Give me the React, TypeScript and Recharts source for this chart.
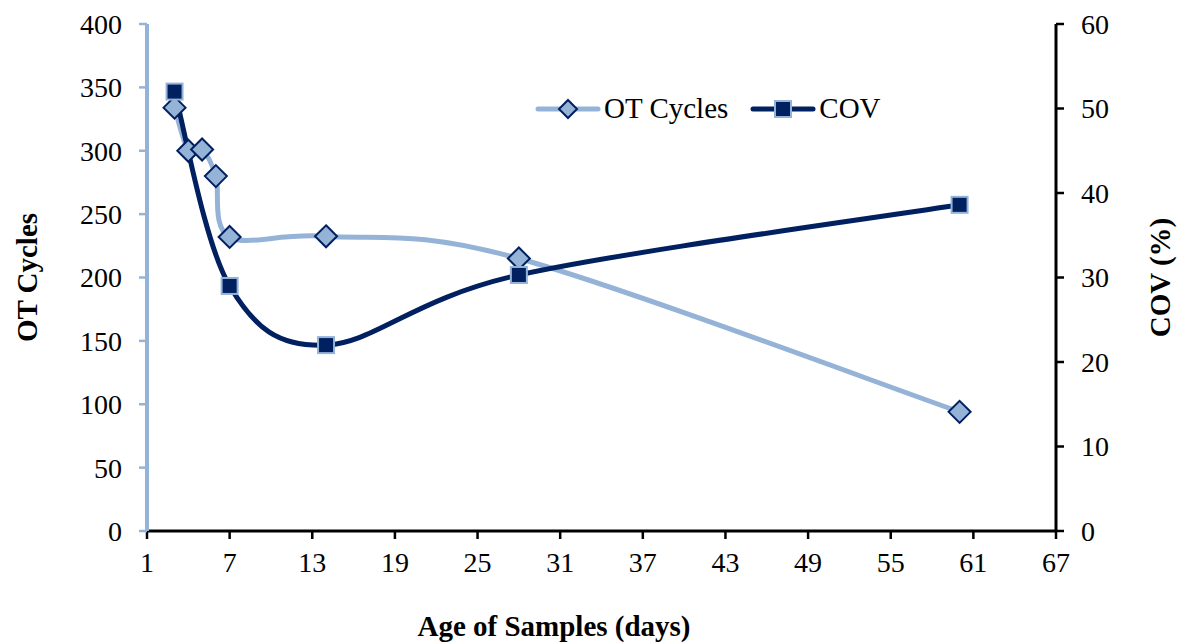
import React from 'react'
import { LineChart, Line, XAxis, YAxis, Legend } from 'recharts'

// OT Cycles series (left axis)
const otAges = [3, 4, 5, 6, 7, 14, 28, 60]
const otCycles = [334, 300, 301, 280, 232, 232.5, 215, 94]

// COV series (right axis)
const covAges = [3, 7, 14, 28, 60]
const covValues = [52, 29, 22, 30.3, 38.6]

const xTicks = [1, 7, 13, 19, 25, 31, 37, 43, 49, 55, 61, 67]
const leftTicks = [0, 50, 100, 150, 200, 250, 300, 350, 400]
const rightTicks = [0, 10, 20, 30, 40, 50, 60]

const otData = otAges.map((age, i) => ({ age, ot: otCycles[i] }))
const covData = covAges.map((age, i) => ({ age, cov: covValues[i] }))

const LIGHT = '#95B3D7'
const DARK = '#002060'
const FONT = "'Liberation Serif', 'Times New Roman', serif"
const TICK = { fontSize: 28, fill: '#000', fontFamily: FONT }
const TITLE = { fontSize: 29, fontWeight: 700, fill: '#000', fontFamily: FONT }

// Excel-style smoothed line (uniform Catmull-Rom as cubic bezier)
/* eslint-disable @typescript-eslint/no-explicit-any */
function excelSmooth(context: any) {
  let pts: number[][] = []
  return {
    areaStart() {},
    areaEnd() {},
    lineStart() { pts = [] },
    point(x: number, y: number) { pts.push([+x, +y]) },
    lineEnd() {
      const n = pts.length
      if (!n) return
      context.moveTo(pts[0][0], pts[0][1])
      for (let i = 0; i < n - 1; i++) {
        const p0 = pts[Math.max(i - 1, 0)]
        const p1 = pts[i]
        const p2 = pts[i + 1]
        const p3 = pts[Math.min(i + 2, n - 1)]
        context.bezierCurveTo(
          p1[0] + (p2[0] - p0[0]) / 6, p1[1] + (p2[1] - p0[1]) / 6,
          p2[0] - (p3[0] - p1[0]) / 6, p2[1] - (p3[1] - p1[1]) / 6,
          p2[0], p2[1],
        )
      }
    },
  }
}

const diamond = (cx: number, cy: number, r = 11) =>
  `M${cx},${cy - r} L${cx + r},${cy} L${cx},${cy + r} L${cx - r},${cy} Z`

const OtDot = (props: any) => {
  const { cx, cy, index } = props
  if (cx == null || cy == null) return <g key={`o${index}`} />
  return <path key={`o${index}`} d={diamond(cx, cy)} fill={LIGHT} stroke={DARK} strokeWidth={2} />
}

const CovDot = (props: any) => {
  const { cx, cy, index } = props
  if (cx == null || cy == null) return <g key={`c${index}`} />
  return <rect key={`c${index}`} x={cx - 8} y={cy - 8} width={16} height={16} fill={DARK} stroke={LIGHT} strokeWidth={2} />
}

const leftTitle = (props: any) => {
  const { y, height } = props.viewBox
  const cx = 27
  const cy = y + height / 2
  return (
    <text x={cx} y={cy} transform={`rotate(-90 ${cx} ${cy})`} textAnchor="middle" dominantBaseline="central" style={TITLE}>
      OT Cycles
    </text>
  )
}

const rightTitle = (props: any) => {
  const { y, height } = props.viewBox
  const cx = 1160
  const cy = y + height / 2
  return (
    <text x={cx} y={cy} transform={`rotate(-90 ${cx} ${cy})`} textAnchor="middle" dominantBaseline="central" style={TITLE}>
      COV (%)
    </text>
  )
}

const bottomTitle = () => (
  <text x={554} y={626} textAnchor="middle" dominantBaseline="central" style={TITLE}>
    Age of Samples (days)
  </text>
)

const renderLegend = () => (
  <div style={{ display: 'flex', alignItems: 'center', fontFamily: FONT, fontSize: 29, color: '#000', whiteSpace: 'nowrap' }}>
    <svg width={66} height={30}>
      <line x1={3} y1={15} x2={63} y2={15} stroke={LIGHT} strokeWidth={5} strokeLinecap="round" />
      <path d={diamond(33, 15, 9)} fill={LIGHT} stroke={DARK} strokeWidth={2} />
    </svg>
    <span style={{ marginLeft: 3, marginRight: 22 }}>OT Cycles</span>
    <svg width={66} height={30}>
      <line x1={3} y1={15} x2={63} y2={15} stroke={DARK} strokeWidth={5} strokeLinecap="round" />
      <rect x={25} y={7} width={16} height={16} fill={DARK} stroke={LIGHT} strokeWidth={2} />
    </svg>
    <span style={{ marginLeft: 3 }}>COV</span>
  </div>
)
/* eslint-enable @typescript-eslint/no-explicit-any */

export default function App() {
  return (
    <div style={{ position: 'absolute', left: 0, top: 0, width: 1178, height: 644, background: '#fff' }}>
      <LineChart width={1178} height={644} margin={{ top: 24, right: 0, bottom: 0, left: 0 }}>
        <XAxis
          dataKey="age"
          type="number"
          domain={[1, 67]}
          ticks={xTicks}
          allowDuplicatedCategory={false}
          height={113}
          tick={TICK}
          tickSize={8}
          tickMargin={13}
          axisLine={{ stroke: '#000', strokeWidth: 3 }}
          tickLine={{ stroke: '#000', strokeWidth: 2.5 }}
          interval={0}
          label={{ content: bottomTitle }}
        />
        <YAxis
          yAxisId="left"
          orientation="left"
          domain={[0, 400]}
          ticks={leftTicks}
          width={147}
          tick={TICK}
          tickSize={8}
          tickMargin={17}
          axisLine={{ stroke: LIGHT, strokeWidth: 4 }}
          tickLine={{ stroke: LIGHT, strokeWidth: 2.5 }}
          interval={0}
          label={{ content: leftTitle }}
        />
        <YAxis
          yAxisId="right"
          orientation="right"
          domain={[0, 60]}
          ticks={rightTicks}
          width={122}
          tick={TICK}
          tickSize={8}
          tickMargin={17}
          axisLine={{ stroke: '#000', strokeWidth: 3 }}
          tickLine={{ stroke: '#000', strokeWidth: 2.5 }}
          interval={0}
          label={{ content: rightTitle }}
        />
        <Legend
          verticalAlign="middle"
          align="center"
          layout="horizontal"
          content={renderLegend}
          wrapperStyle={{ top: 92, left: 535, width: 'auto' }}
        />
        <Line
          yAxisId="left"
          data={otData}
          dataKey="ot"
          name="OT Cycles"
          type={excelSmooth as any}
          stroke={LIGHT}
          strokeWidth={5}
          dot={OtDot}
          activeDot={false}
          isAnimationActive={false}
        />
        <Line
          yAxisId="right"
          data={covData}
          dataKey="cov"
          name="COV"
          type={excelSmooth as any}
          stroke={DARK}
          strokeWidth={5}
          dot={CovDot}
          activeDot={false}
          isAnimationActive={false}
        />
      </LineChart>
    </div>
  )
}
